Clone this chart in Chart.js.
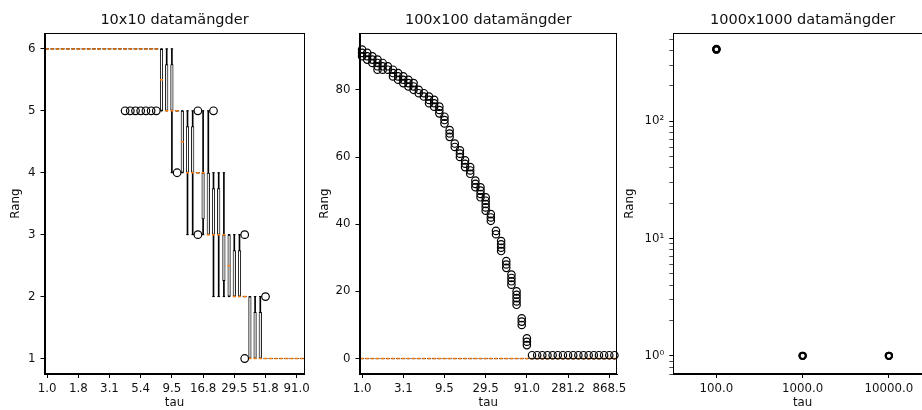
<!DOCTYPE html>
<html>
<head>
<meta charset="utf-8">
<script src="https://cdn.jsdelivr.net/npm/chart.js@4.4.0/dist/chart.umd.min.js"></script>
<style>
  html, body { margin: 0; padding: 0; width: 922px; height: 410px; overflow: hidden; background: #fff; }
  canvas { position: absolute; top: 0; }
</style>
</head>
<body>
<canvas id="c1" width="312" height="410" style="left:0px"></canvas>
<canvas id="c2" width="322" height="410" style="left:312px"></canvas>
<canvas id="c3" width="320" height="410" style="left:622px"></canvas>
<script>
// tau categories
const tau1 = ['1.0','1.1','1.2','1.3','1.5','1.6','1.8','1.9','2.1','2.3',
  '2.6','2.8','3.1','3.4','3.7','4.1','4.5','4.9','5.4','6.0',
  '6.6','7.2','7.9','8.7','9.5','10.5','11.5','12.6','13.9','15.3',
  '16.8','18.4','20.2','22.2','24.4','26.8','29.5','32.4','35.6','39.1',
  '42.9','47.1','51.8','56.9','62.5','68.7','75.4','82.9','91.0','100.0'];
const tau2 = ['1.0','1.2','1.3','1.5','1.8','2.0','2.3','2.7','3.1','3.6',
  '4.1','4.7','5.4','6.3','7.2','8.3','9.5','11.0','12.6','14.6',
  '16.8','19.3','22.2','25.6','29.5','33.9','39.1','45.0','51.8','59.6',
  '68.7','79.1','91.0','104.8','120.7','139.0','160.0','184.2','212.1','244.2',
  '281.2','323.7','372.8','429.2','494.2','569.0','655.1','754.3','868.5','1000.0'];
const tau3 = ['100.0', '1000.0', '10000.0'];

// 10x10: box statistics per tau
const lo1 = [6,6,6,6,6,6,6,6,6,6, 6,6,6,6,6,6,6,6,6,6,
  6,6,5,5,4,5,4,3,3,4, 3,3,2,2,2,2,2,2,2,1, 1,1,1,1,1,1,1,1,1,1];
const q1_1 = [6,6,6,6,6,6,6,6,6,6, 6,6,6,6,6,6,6,6,6,6,
  6,6,5,5,5,5,4,4,4,4, 3.25,3,3,3,2.25,2,2,2,2,1, 1,1,1,1,1,1,1,1,1,1];
const med1 = [6,6,6,6,6,6,6,6,6,6, 6,6,6,6,6,6,6,6,6,6,
  6,6,5.5,5,5,5,4.5,4,4,4, 4,3,3,3,3,2.5,2,2,2,1, 1,1,1,1,1,1,1,1,1,1];
const q3_1 = [6,6,6,6,6,6,6,6,6,6, 6,6,6,6,6,6,6,6,6,6,
  6,6,6,5.75,5.75,5,5,4.75,4.75,4, 4,4,3.75,3.75,3,3,2.75,2.75,2,2,
  1.75,1.75,1,1,1,1,1,1,1,1];
const hi1 = [6,6,6,6,6,6,6,6,6,6, 6,6,6,6,6,6,6,6,6,6,
  6,6,6,6,6,5,5,5,5,4, 5,5,4,4,4,3,3,3,2,2, 2,2,1,1,1,1,1,1,1,1];
const out1 = [[],[],[],[],[],[],[],[],[],[],
  [],[],[],[],[],[5],[5],[5],[5],[5],
  [5],[5],[],[],[],[4],[],[],[],[5,3],
  [],[],[5],[],[],[],[],[],[3,1],[],
  [],[],[2],[],[],[],[],[],[],[]];

// 100x100: every box collapses at 0, the rest are outliers
const med2 = [0,0,0,0,0,0,0,0,0,0, 0,0,0,0,0,0,0,0,0,0,
  0,0,0,0,0,0,0,0,0,0, 0,0,0,0,0,0,0,0,0,0, 0,0,0,0,0,0,0,0,0,0];
const out2 = [[92,91,90],[91,90,89],[90,89,88],[89,88,87,86],[88,87,86],
  [87,86],[86,85,84],[85,84,83],[84,83,82],[83,82,81],
  [82,81,80],[80,79],[79,78],[78,77,76],[77,76,75],
  [75,74,73],[72,71,70],[68,67,66],[64,63],[62,61,60],
  [59,58,57],[57,56,55],[53,52,51],[51,50,49,48],[48,47,46,45,44],
  [43,42,41],[38,37],[35,34,33,32],[29,28,27],[25,24,23,22],
  [20,19,18,17,16],[12,11,10],[6,5,4],[1],[1],
  [1],[1],[1],[1],[1],[1],[1],[1],[1],[1],
  [1],[1],[1],[1],[1]];

// 1000x1000: only outliers are visible on the log axis
const out3 = [[413,410,407],[1,1],[1,1]];

const ORANGE = '#ff7f0e';
const FAMILY = 'DejaVu Sans';
const TICK_FONT = { family: FAMILY, size: 11.8 };
const TEXT = '#111';

function pointSet(data, style, radius, color, width, order) {
  return {
    type: 'line', data, showLine: false, order,
    pointStyle: style, pointRadius: radius, pointHoverRadius: radius,
    pointBorderColor: color, pointBorderWidth: width,
    pointBackgroundColor: 'rgba(0,0,0,0)',
  };
}

function flierSets(out, radius, width) {
  const sets = [];
  const n = Math.max(...out.map(o => o.length));
  for (let j = 0; j < n; j++) {
    sets.push(pointSet(out.map(o => (o.length > j ? o[j] : null)), 'circle', radius, '#000', width, 0));
  }
  return sets;
}

function boxSets(lo, q1, med, q3, hi) {
  return [
    pointSet(med, 'line', 1.5, ORANGE, 1.5, 1),
    pointSet(q1.map((v, i) => (v === q3[i] ? v : null)), 'line', 2.1, '#222', 1, 2),
    {
      type: 'bar', order: 3, grouped: false,
      data: q1.map((v, i) => (v === q3[i] ? null : [v, q3[i]])),
      backgroundColor: '#fff', borderColor: '#000', borderWidth: 1, borderSkipped: false,
      barPercentage: 0.62, categoryPercentage: 1,
    },
    pointSet(lo, 'line', 1.2, '#000', 1, 4),
    pointSet(hi, 'line', 1.2, '#000', 1, 4),
    {
      type: 'bar', order: 5, grouped: false,
      data: lo.map((v, i) => (v === hi[i] ? null : [v, hi[i]])),
      backgroundColor: '#000', borderWidth: 0, barThickness: 1,
    },
  ];
}

const framePlugin = {
  id: 'frame',
  afterDatasetsDraw(chart) {
    const { ctx, chartArea: a } = chart;
    const l = Math.round(a.left), t = Math.round(a.top);
    ctx.save();
    ctx.strokeStyle = '#000';
    ctx.lineWidth = 1;
    ctx.strokeRect(l + 0.5, t + 0.5, Math.round(a.right) - l - 1, Math.round(a.bottom) - t - 1);
    ctx.restore();
  },
};

function xAxis(every) {
  return {
    type: 'category', offset: true,
    grid: {
      display: true, drawOnChartArea: false, offset: false, tickLength: 4,
      tickColor: (c) => (c.index % every === 0 ? '#000' : 'rgba(0,0,0,0)'),
    },
    border: { display: true, color: '#000', width: 1 },
    ticks: {
      autoSkip: false, maxRotation: 0, padding: 4, color: TEXT, font: TICK_FONT,
      callback(v, i) { return i % every === 0 ? this.getLabelForValue(v) : ''; },
    },
    title: { display: true, text: 'tau', color: TEXT, font: TICK_FONT, padding: 0 },
    afterFit(s) { s.height = 36; },
  };
}

function yTitle(pad) {
  return { display: true, text: 'Rang', color: TEXT, font: TICK_FONT, padding: { top: pad, bottom: 0 } };
}

function baseOptions(title, padRight, scales) {
  return {
    responsive: false, animation: false, events: [],
    layout: { padding: { left: 0, right: padRight, top: 0, bottom: 0 } },
    plugins: {
      legend: { display: false },
      tooltip: { enabled: false },
      title: {
        display: true, text: title, color: TEXT, fullSize: false,
        font: { family: FAMILY, size: 14.5, weight: 'normal' },
        padding: { top: 12, bottom: 4 },
      },
    },
    scales,
  };
}

new Chart(document.getElementById('c1'), {
  type: 'bar',
  data: {
    labels: tau1,
    datasets: [...flierSets(out1, 3.8, 1.2), ...boxSets(lo1, q1_1, med1, q3_1, hi1)],
  },
  options: baseOptions('10x10 datamängder', 7.5, {
    x: xAxis(6),
    y: {
      type: 'linear', min: 0.75, max: 6.25,
      grid: { display: true, drawOnChartArea: false, tickLength: 4, tickColor: '#000' },
      border: { display: true, color: '#000', width: 1 },
      ticks: { stepSize: 1, includeBounds: false, padding: 5, color: TEXT, font: TICK_FONT },
      title: yTitle(8.8),
      afterFit(s) { s.width = 44.5; },
    },
  }),
  plugins: [framePlugin],
});

new Chart(document.getElementById('c2'), {
  type: 'bar',
  data: {
    labels: tau2,
    datasets: [...flierSets(out2, 3.7, 1.2), ...boxSets(med2, med2, med2, med2, med2)],
  },
  options: baseOptions('100x100 datamängder', 17, {
    x: xAxis(8),
    y: {
      type: 'linear', min: -4.6, max: 96.8,
      grid: { display: true, drawOnChartArea: false, tickLength: 4, tickColor: '#000' },
      border: { display: true, color: '#000', width: 1 },
      ticks: { stepSize: 20, includeBounds: false, padding: 5, color: TEXT, font: TICK_FONT },
      title: yTitle(5.8),
      afterFit(s) { s.width = 47.5; },
    },
  }),
  plugins: [framePlugin],
});

const SUP = ['\u2070', '\u00b9', '\u00b2', '\u00b3'];
function logKind(v) {
  const e = Math.floor(Math.log10(v) + 1e-9);
  const m = v / Math.pow(10, e);
  const r = Math.round(m);
  if (Math.abs(m - r) > 1e-6 || r < 1 || r > 9) return 0;
  return r === 1 ? 2 : 1;
}

new Chart(document.getElementById('c3'), {
  type: 'line',
  data: {
    labels: tau3,
    datasets: flierSets(out3, 3.2, 2),
  },
  options: baseOptions('1000x1000 datamängder', 10, {
    x: xAxis(1),
    y: {
      type: 'logarithmic', min: 0.745, max: 560,
      grid: {
        display: true, drawOnChartArea: false, tickLength: 4,
        tickColor: (c) => (logKind(c.tick.value) ? '#000' : 'rgba(0,0,0,0)'),
        tickWidth: (c) => (logKind(c.tick.value) === 2 ? 1 : 0.7),
      },
      border: { display: true, color: '#000', width: 1 },
      ticks: {
        autoSkip: false, padding: 5, color: TEXT, font: TICK_FONT,
        callback(v) {
          if (logKind(v) !== 2) return '';
          return '10' + SUP[Math.round(Math.log10(v))];
        },
      },
      title: yTitle(0.5),
      afterFit(s) { s.width = 51.3; },
    },
  }),
  plugins: [framePlugin],
});
</script>
</body>
</html>
